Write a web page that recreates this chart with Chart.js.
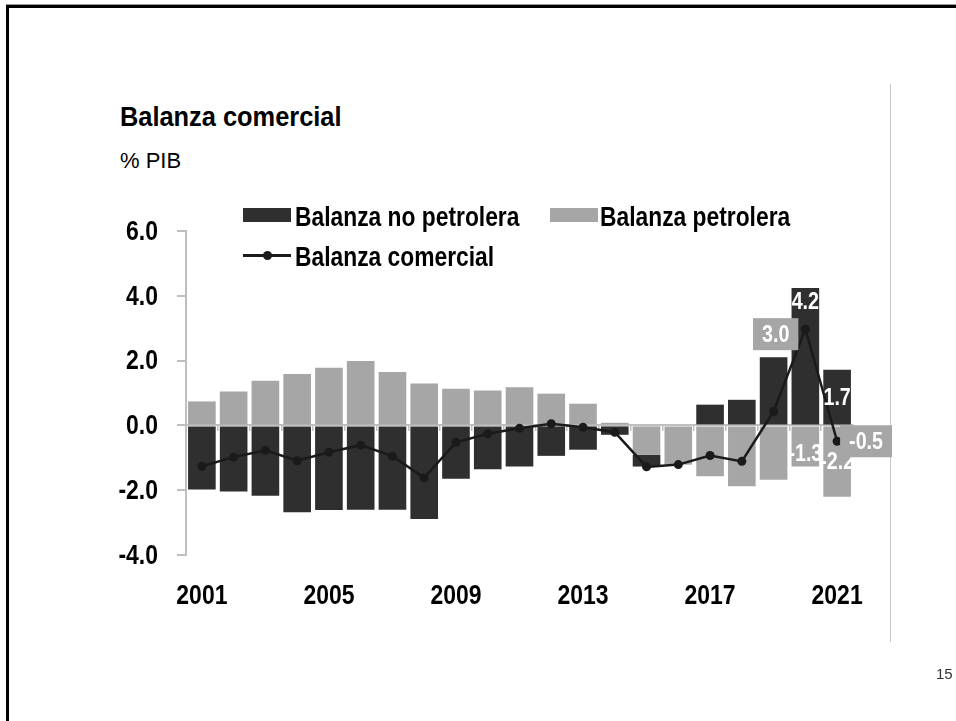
<!DOCTYPE html>
<html>
<head>
<meta charset="utf-8">
<script src="https://cdn.jsdelivr.net/npm/chart.js@4.4.0/dist/chart.umd.min.js"></script>
<style>
  html, body { margin: 0; padding: 0; background: #fff; overflow: hidden; }
  #slide { position: relative; width: 956px; height: 721px; overflow: hidden; }
  #chart { position: absolute; left: 0; top: 0; }
  .frame { position: absolute; left: 6px; top: 5px; width: 1000px; height: 800px;
           border-left: 3px solid #000; border-top: 3px solid #000; }
  .frame-edge { position: absolute; left: 6px; top: 4px; width: 950px; height: 1px; background: #9a9a9a; }
  .sep { position: absolute; left: 890px; top: 84px; width: 1px; height: 558px; background: #c8c8c8; }
  .title { position: absolute; left: 120px; top: 102px; line-height: 1; white-space: nowrap;
           font: bold 27px 'Liberation Sans', Arial, sans-serif; color: #000;
           transform: scaleX(0.94); transform-origin: left top; }
  .unit { position: absolute; left: 120px; top: 148px; line-height: 1; white-space: nowrap;
          font: 22px 'Liberation Sans', Arial, sans-serif; color: #000; }
  .leg { position: absolute; line-height: 1; white-space: nowrap; color: #000;
         font: bold 27px 'Liberation Sans', Arial, sans-serif;
         transform: scaleX(0.845); transform-origin: left top; }
  .sw { position: absolute; width: 48px; height: 14px; }
  .ln { position: absolute; width: 48px; height: 3px; background: #1a1a1a; }
  .dot { position: absolute; width: 9px; height: 9px; border-radius: 50%; background: #1a1a1a; }
  .page { position: absolute; left: 936px; top: 665px; line-height: 1;
          font: 15px 'Liberation Sans', Arial, sans-serif; color: #333; }
</style>
</head>
<body>
<div id="slide">
  <div class="frame-edge"></div>
  <div class="frame"></div>
  <div class="sep"></div>
  <div class="title">Balanza comercial</div>
  <div class="unit">% PIB</div>
  <canvas id="chart" width="956" height="721"></canvas>

  <div class="sw" style="left:243px; top:208px; background:#2f2f2f;"></div>
  <div class="leg" style="left:295px; top:202px;">Balanza no petrolera</div>
  <div class="sw" style="left:550px; top:208px; background:#a6a6a6;"></div>
  <div class="leg" style="left:600px; top:202px;">Balanza petrolera</div>
  <div class="ln" style="left:243px; top:254px;"></div>
  <div class="dot" style="left:263px; top:251px;"></div>
  <div class="leg" style="left:295px; top:242px;">Balanza comercial</div>

  <div class="page">15</div>
</div>

<script>
// datos (% del PIB)
const years = ['2001','2002','2003','2004','2005','2006','2007','2008','2009','2010',
               '2011','2012','2013','2014','2015','2016','2017','2018','2019','2020','2021'];
const tickYears = ['2001','2005','2009','2013','2017','2021'];
const noPetrolera = [-1.98,-2.04,-2.17,-2.68,-2.61,-2.60,-2.60,-2.89,-1.65,-1.35,
                     -1.27,-0.94,-0.75,-0.29,-0.36,-0.02,0.64,0.79,2.10,4.24,1.72];
const petrolera = [0.74,1.05,1.38,1.59,1.78,1.99,1.65,1.29,1.13,1.08,
                   1.18,0.98,0.67,0.08,-0.91,-1.18,-1.57,-1.88,-1.68,-1.27,-2.20];
const comercial = [-1.26,-0.98,-0.77,-1.09,-0.83,-0.61,-0.95,-1.62,-0.52,-0.26,
                   -0.09,0.05,-0.06,-0.21,-1.28,-1.21,-0.93,-1.11,0.43,2.97,-0.49];
const yTicks = [-4, -2, 0, 2, 4, 6];

const sans = "'Liberation Sans', Arial, sans-serif";
const squeeze = 0.82; // aspecto de Arial Narrow
const dark = '#2f2f2f';
const light = '#a6a6a6';
const axisGray = '#bfbfbf';

// etiquetas de valor (dataset, indice, ubicacion)
const labelSpots = [
  { ds: 2, i: 19, at: 'end' },
  { ds: 1, i: 19, at: 'end' },
  { ds: 2, i: 20, at: 'center' },
  { ds: 1, i: 20, at: 'center' },
  { ds: 0, i: 19, at: 'boxLeft' },
  { ds: 0, i: 20, at: 'boxRight' }
];

function narrowText(ctx, txt, x, y, align) {
  ctx.save();
  ctx.translate(x, y);
  ctx.scale(squeeze, 1);
  ctx.textAlign = align;
  ctx.textBaseline = 'middle';
  ctx.fillText(txt, 0, 0);
  ctx.restore();
}

// rotulos de ejes en letra angosta, ubicados con las escalas del grafico
const axisLabels = {
  id: 'axisLabels',
  afterDraw(chart) {
    const ctx = chart.ctx;
    const xs = chart.scales.x, ys = chart.scales.y;
    ctx.save();
    ctx.fillStyle = '#000';
    ctx.font = 'bold 28px ' + sans;
    yTicks.forEach((v) => {
      narrowText(ctx, v.toFixed(1), chart.chartArea.left - 28, ys.getPixelForValue(v) + 1, 'right');
    });
    years.forEach((yr, i) => {
      if (tickYears.includes(yr)) {
        narrowText(ctx, yr, xs.getPixelForValue(i), chart.chartArea.bottom + 41, 'center');
      }
    });
    ctx.restore();
  }
};

const valueLabels = {
  id: 'valueLabels',
  afterDatasetsDraw(chart) {
    const ctx = chart.ctx;
    ctx.save();
    ctx.font = 'bold 24px ' + sans;
    labelSpots.forEach((s) => {
      const el = chart.getDatasetMeta(s.ds).data[s.i];
      const v = chart.data.datasets[s.ds].data[s.i];
      const txt = v.toFixed(1);
      const w = ctx.measureText(txt).width * squeeze;
      if (s.at === 'end' || s.at === 'center') {
        let y;
        if (s.at === 'center') {
          y = (el.y + el.base) / 2;
        } else if (v >= 0) {
          y = el.y + 4 + 9;
        } else {
          y = el.y - 4 - 9;
        }
        ctx.fillStyle = '#fff';
        narrowText(ctx, txt, el.x, y + 1, 'center');
      } else {
        const bw = w + 18, bh = 32;
        let left, cy;
        if (s.at === 'boxLeft') {
          left = el.x - 7 - bw;
          cy = el.y + 5;
        } else {
          left = el.x + 3;
          cy = el.y;
        }
        ctx.fillStyle = light;
        ctx.fillRect(left, cy - bh / 2, bw, bh);
        ctx.fillStyle = '#fff';
        narrowText(ctx, txt, left + bw / 2, cy + 1, 'center');
      }
    });
    ctx.restore();
  }
};

const chart = new Chart(document.getElementById('chart'), {
  type: 'bar',
  data: {
    labels: years,
    datasets: [
      {
        type: 'line',
        label: 'Balanza comercial',
        data: comercial,
        stack: 'total',
        borderColor: '#1a1a1a',
        backgroundColor: '#1a1a1a',
        borderWidth: 2.5,
        pointRadius: 4.5,
        pointBackgroundColor: '#1a1a1a',
        pointBorderWidth: 0,
        tension: 0,
      },
      {
        label: 'Balanza petrolera',
        data: petrolera,
        stack: 'bal',
        backgroundColor: light,
        borderWidth: 0,
        barPercentage: 0.87,
        categoryPercentage: 1,
      },
      {
        label: 'Balanza no petrolera',
        data: noPetrolera,
        stack: 'bal',
        backgroundColor: dark,
        borderWidth: 0,
        barPercentage: 0.87,
        categoryPercentage: 1,
      },
    ],
  },
  options: {
    responsive: false,
    devicePixelRatio: 1,
    animation: false,
    layout: { padding: { left: 106, right: 103, top: 231, bottom: 106 } },
    plugins: { legend: { display: false }, tooltip: { enabled: false } },
    scales: {
      x: {
        stacked: true,
        position: 'bottom',
        grid: { display: false, drawTicks: false },
        border: { display: false },
        ticks: { display: false },
        afterFit: function (scale) { scale.height = 60; },
      },
      x2: {
        type: 'category',
        axis: 'x',
        position: { y: 0 },
        offset: true,
        z: 1,
        grid: { offset: true, drawOnChartArea: false, drawTicks: true, tickLength: 5, color: axisGray, lineWidth: 1.5 },
        border: { color: axisGray, width: 2 },
        ticks: { display: false },
      },
      y: {
        stacked: true,
        min: yTicks[0],
        max: yTicks[yTicks.length - 1],
        grid: { drawOnChartArea: false, drawTicks: true, tickLength: 9, color: axisGray, lineWidth: 2 },
        border: { color: axisGray, width: 2 },
        ticks: { display: false, stepSize: yTicks[1] - yTicks[0] },
        afterFit: function (scale) { scale.width = 80; },
      },
    },
  },
  plugins: [valueLabels, axisLabels],
});
</script>
</body>
</html>
